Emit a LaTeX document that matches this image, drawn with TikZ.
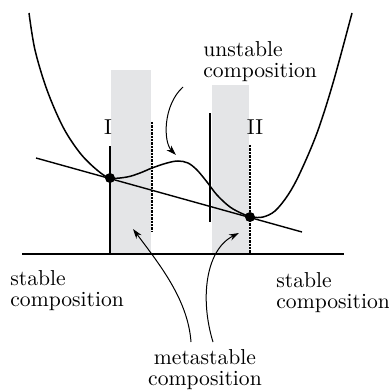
\documentclass[tikz,border=0pt]{standalone}
\usetikzlibrary{arrows.meta,positioning}
\definecolor{bandgray}{RGB}{228,229,231}
\tikzset{
  axis/.style={black,line width=0.7pt},
  energy/.style={black,line width=0.75pt},
  tangent/.style={black,line width=0.7pt},
  bound/.style={black,line width=0.6pt},
  boundd/.style={black,line width=0.6pt,dash pattern=on 1.2pt off 0.5pt},
  band/.style={fill=bandgray,draw=none},
  pointer/.style={-{Stealth[length=5pt,width=3.2pt]},line width=0.5pt},
  dot/.style={circle,fill=black,inner sep=0pt,minimum size=5pt},
  lab/.style={font=\fontsize{10.8}{10.5}\selectfont,align=left,inner sep=0pt},
  phaselab/.style={font=\fontsize{10.8}{10.5}\selectfont,inner sep=0pt},
}
\begin{document}
\begin{tikzpicture}[x=0.5pt,y=-0.5pt]
  \path[use as bounding box] (0,0) rectangle (388,390);

  % metastable bands
  \fill[band] (111,70) rectangle (151,254);
  \fill[band] (212,85) rectangle (249,254);

  \draw[axis] (22,254) -- (344,254);

  % phase boundaries
  \draw[bound]  (110,146) -- (110,254);
  \draw[boundd] (152,122) -- (152,231);
  \draw[bound]  (210,113) -- (210,222);
  \draw[boundd] (250,145) -- (250,254);

  % free energy curve and common tangent
  \draw[energy] plot[smooth,tension=0.55] coordinates {
    (29,13) (35,50) (47,90) (63,127) (80,153) (97,170) (110,178)
    (127,177) (140,173) (152,168) (167,163) (178,161) (188,163) (197,170)
    (207,182) (217,195) (230,207) (243,214) (252,217) (263,217) (275,211)
    (288,195) (300,173) (317,133) (333,83) (352,13)};
  \draw[tangent] (36,158) -- (302,232);

  \node[dot] (ptI) at (110,178) {};
  \node[dot] (ptII) at (250,217) {};
  \node[phaselab] (labI) at (108,127) {I};
  \node[phaselab] (labII) at (255,127) {II};

  \node[lab,anchor=west] (unstable) at (203,62) {unstable\\composition};
  \node[lab,anchor=west] (stableL) at (10,291) {stable\\composition};
  \node[lab,anchor=west] (stableR) at (276,293) {stable\\composition};
  \node[lab,align=center] (meta) at (205,370) {metastable\\composition};

  \coordinate (unstableFrom) at (183,87);
  \coordinate (unstableTip) at (176,155);
  \coordinate (metaTipL) at (133,229);
  \coordinate (metaTipR) at (239,233);
  \coordinate (metaFromL) at (191,342);
  \coordinate (metaFromR) at (213,342);

  \draw[pointer] (unstableFrom) .. controls (163,105) and (163,142) .. (unstableTip);
  \draw[pointer] (metaFromL) .. controls (188,300) and (160,265) .. (metaTipL);
  \draw[pointer] (metaFromR) .. controls (200,300) and (205,250) .. (metaTipR);
\end{tikzpicture}
\end{document}
